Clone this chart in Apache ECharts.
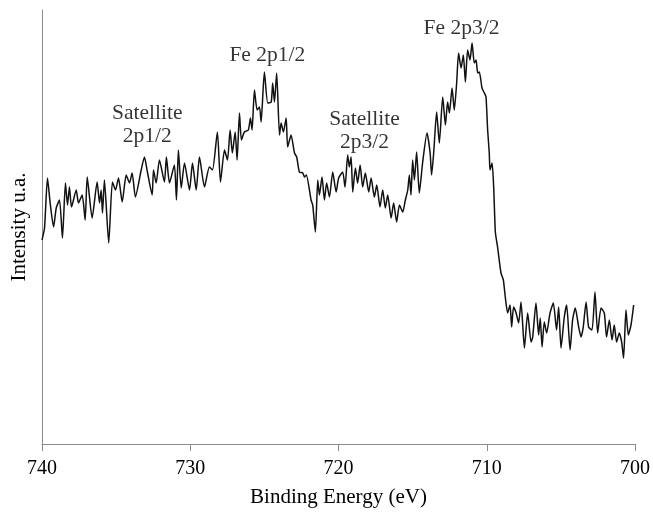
<!DOCTYPE html>
<html>
<head>
<meta charset="utf-8">
<title>Fe 2p XPS spectrum</title>
<script src="https://cdn.jsdelivr.net/npm/echarts@6/dist/echarts.min.js"></script>
<style>
  html, body { margin: 0; padding: 0; background: #ffffff; }
  #chart { width: 653px; height: 513px; }
</style>
</head>
<body>
<div id="chart"></div>
<script>
// Fe 2p region: binding energy (eV) and measured intensity (a.u.)
const energy = [
  740.00, 739.83, 739.63, 739.45, 739.22, 739.04, 738.82, 738.62, 738.42, 738.28,
  738.15, 738.01, 737.69, 737.54, 737.29, 737.09, 736.95, 736.62, 736.28, 736.12,
  736.01, 735.92, 735.79, 735.50, 735.25, 735.04, 734.84, 734.59, 734.32, 734.10,
  733.92, 733.70, 733.31, 733.09, 732.89, 732.57, 732.48, 732.30, 732.08, 731.74,
  731.61, 731.40, 731.07, 730.93, 730.80, 730.61, 730.39, 730.05, 729.85, 729.60,
  729.38, 729.04, 728.71, 728.50, 728.17, 727.96, 727.69, 727.49, 727.31, 727.16,
  726.97, 726.84, 726.68, 726.55, 726.35, 726.08, 725.94, 725.83, 725.67, 725.49,
  725.33, 725.22, 725.00, 724.77, 724.54, 724.44, 724.32, 724.17, 723.98, 723.87,
  723.72, 723.53, 723.43, 723.20, 722.97, 722.82, 722.64, 722.41, 722.30, 722.17,
  721.85, 721.74, 721.56, 721.40, 721.29, 721.11, 720.95, 720.80, 720.61, 720.39,
  720.16, 719.99, 719.72, 719.56, 719.38, 719.27, 719.15, 719.04, 718.86, 718.71,
  718.54, 718.37, 718.19, 717.96, 717.80, 717.58, 717.42, 717.20, 717.02, 716.84,
  716.68, 716.45, 716.28, 716.08, 715.89, 715.67, 715.49, 715.33, 715.22, 715.11,
  715.00, 714.88, 714.73, 714.55, 714.32, 714.03, 713.82, 713.72, 713.58, 713.38,
  713.20, 712.97, 712.79, 712.64, 712.52, 712.34, 712.19, 712.03, 711.90, 711.73,
  711.58, 711.44, 711.29, 711.13, 710.99, 710.84, 710.72, 710.61, 710.50, 710.32,
  710.16, 710.05, 709.94, 709.83, 709.78, 709.64, 709.53, 709.42, 709.27, 709.04,
  708.88, 708.75, 708.59, 708.43, 708.32, 708.19, 708.02, 707.85, 707.69, 707.46,
  707.24, 707.01, 706.90, 706.68, 706.50, 706.39, 706.27, 706.12, 705.96, 705.73,
  705.51, 705.29, 705.15, 704.99, 704.77, 704.61, 704.38, 704.21, 704.03, 703.80,
  703.64, 703.49, 703.30, 703.13, 702.90, 702.70, 702.52, 702.29, 702.07, 701.92,
  701.73, 701.55, 701.40, 701.24, 701.06, 700.90, 700.77, 700.61, 700.45, 700.27,
  700.09
];
const intensity = [
  204, 216, 266, 241, 217, 236, 244, 206, 261, 239,
  257, 237, 254, 241, 249, 224, 267, 226, 262, 241,
  254, 231, 264, 201, 262, 254, 266, 242, 269, 261,
  271, 247, 274, 287, 272, 249, 274, 261, 284, 262,
  287, 261, 279, 244, 294, 256, 281, 254, 281, 254,
  287, 257, 277, 274, 312, 262, 294, 284, 314, 291,
  312, 284, 331, 304, 312, 314, 326, 314, 354, 334,
  337, 322, 372, 341, 342, 361, 342, 371, 309, 321,
  312, 326, 297, 309, 291, 287, 272, 271, 267, 269,
  244, 239, 212, 264, 249, 267, 244, 261, 247, 272,
  252, 266, 272, 257, 289, 277, 287, 252, 276, 261,
  279, 257, 271, 252, 266, 247, 259, 237, 254, 236,
  249, 226, 241, 222, 239, 232, 244, 254, 269, 249,
  284, 264, 292, 251, 282, 311, 291, 269, 291, 332,
  301, 347, 319, 342, 331, 356, 334, 361, 391, 376,
  389, 362, 394, 384, 401, 381, 384, 371, 372, 356,
  351, 347, 314, 291, 274, 281, 256, 212, 197, 171,
  164, 147, 131, 139, 117, 137, 131, 121, 142, 96,
  131, 102, 107, 141, 109, 126, 97, 122, 111, 131,
  141, 114, 137, 96, 127, 139, 94, 124, 136, 117,
  107, 117, 142, 117, 114, 152, 111, 136, 131, 107,
  124, 104, 119, 102, 111, 102, 86, 134, 109, 119,
  139
];

// Peak annotations
const peakLabels = ['Satellite\n2p1/2', 'Fe 2p1/2', 'Satellite\n2p3/2', 'Fe 2p3/2'];
const peakLabelEnergy = [732.9, 724.8, 718.25, 711.7];
const peakLabelIntensity = [319, 389, 313, 416];

const serif = "'Liberation Serif', 'Times New Roman', serif";
const axisGrey = '#8c8c8c';

const chart = echarts.init(document.getElementById('chart'), null, { renderer: 'canvas' });

chart.setOption({
  animation: false,
  backgroundColor: '#ffffff',
  grid: { left: 42, right: 18, top: 10, bottom: 69, containLabel: false },
  xAxis: {
    type: 'value',
    min: 700,
    max: 740,
    interval: 10,
    inverse: true,
    name: 'Binding Energy (eV)',
    nameLocation: 'middle',
    nameGap: 43,
    nameTextStyle: { fontFamily: serif, fontSize: 21, color: '#000' },
    axisLine: { show: true, lineStyle: { color: axisGrey, width: 1 } },
    axisTick: { show: true, length: 7, lineStyle: { color: axisGrey, width: 1 } },
    axisLabel: { margin: 15, fontFamily: serif, fontSize: 20, color: '#000' },
    splitLine: { show: false }
  },
  yAxis: {
    type: 'value',
    min: 0,
    max: 434,
    name: 'Intensity u.a.',
    nameLocation: 'middle',
    nameRotate: 90,
    nameGap: 12,
    nameTextStyle: { fontFamily: serif, fontSize: 21, color: '#000' },
    axisLine: { show: true, lineStyle: { color: axisGrey, width: 1 } },
    axisTick: { show: false },
    axisLabel: { show: false },
    splitLine: { show: false }
  },
  series: [
    {
      type: 'line',
      data: energy.map((e, i) => [e, intensity[i]]),
      showSymbol: false,
      smooth: 0.2,
      lineStyle: { color: '#111111', width: 1.5 },
      z: 3
    },
    {
      type: 'scatter',
      symbolSize: 0,
      silent: true,
      data: peakLabels.map((t, i) => ({ name: t, value: [peakLabelEnergy[i], peakLabelIntensity[i]] })),
      label: {
        show: true,
        position: 'inside',
        formatter: p => p.name,
        fontFamily: serif,
        fontSize: 21.5,
        lineHeight: 23,
        color: '#000',
        align: 'center'
      },
      z: 4
    }
  ]
});
</script>
</body>
</html>
